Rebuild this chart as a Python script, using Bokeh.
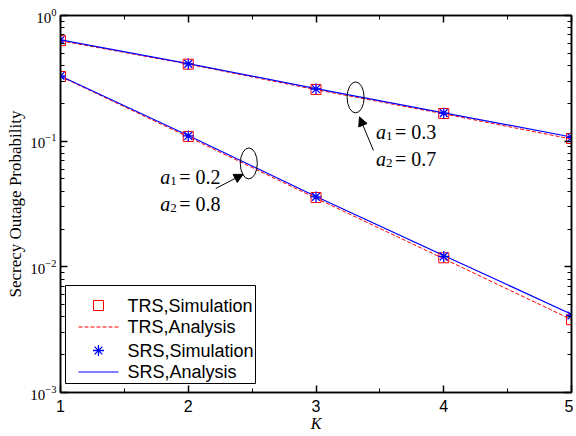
from bokeh.plotting import figure
from bokeh.models import (LinearAxis, LogAxis, SingleIntervalTicker, LogTicker, LinearScale,
                          Label, Arrow, NormalHead, Range1d)
from bokeh.core.properties import value
from bokeh.embed import file_html
from bokeh.resources import INLINE

K = [1, 2, 3, 4, 5]
# a1=0.3, a2=0.7 (upper curves)
trs_sim_hi = [0.63, 0.41, 0.258, 0.166, 0.105]
trs_ana_hi = [0.63, 0.41, 0.257, 0.165, 0.104]
srs_sim_hi = [0.635, 0.412, 0.26, 0.167, 0.107]
srs_ana_hi = [0.64, 0.414, 0.262, 0.168, 0.108]
# a1=0.2, a2=0.8 (lower curves)
trs_sim_lo = [0.327, 0.109, 0.0356, 0.0118, 0.0038]
trs_ana_lo = [0.327, 0.108, 0.0352, 0.0116, 0.0038]
srs_sim_lo = [0.33, 0.110, 0.0360, 0.0121, 0.0041]
srs_ana_lo = [0.33, 0.111, 0.0363, 0.0123, 0.0042]

legend_labels = ["TRS,Simulation", "TRS,Analysis", "SRS,Simulation", "SRS,Analysis"]

# annotation anchors (data coords)
ell_x = [2.474, 3.31]
ell_y = [0.0665, 0.223]
arrow_lo = (2.215, 0.042, 2.43, 0.0545)
arrow_hi = (3.45, 0.0843, 3.34, 0.156)
txt_lo = (1.78, 0.046, "0.2", "0.8")
txt_hi = (3.47, 0.105, "0.3", "0.7")

SERIF = "Liberation Serif"
SANS = "Liberation Sans"
FW, FH = 511, 377

p = figure(frame_width=FW, frame_height=FH, y_axis_type="log", output_backend="svg", toolbar_location=None,
           x_range=Range1d(1, 5), y_range=Range1d(1e-3, 1),
           min_border_left=60, min_border_right=2, min_border_top=15, min_border_bottom=20)
p.background_fill_color = "white"
p.border_fill_color = "white"
p.outline_line_color = "black"
p.outline_line_width = 1.5
p.xgrid.visible = False
p.ygrid.visible = False
# pixel-space ranges for the legend box
p.extra_x_ranges = {"px": Range1d(0, FW)}
p.extra_y_ranges = {"px": Range1d(0, FH)}
p.extra_x_scales = {"px": LinearScale()}
p.extra_y_scales = {"px": LinearScale()}

def style_axis(ax, labels=True):
    ax.major_tick_in = 7
    ax.major_tick_out = 0
    ax.minor_tick_in = 4
    ax.minor_tick_out = 0
    ax.axis_line_color = "black"
    ax.axis_line_width = 1.5
    ax.major_tick_line_color = "black"
    ax.minor_tick_line_color = "black"
    ax.major_tick_line_width = 1.5
    ax.minor_tick_line_width = 1
    ax.major_label_text_color = "black"
    ax.axis_label_text_color = "black"
    if not labels:
        ax.major_label_text_font_size = "0px"
        ax.major_label_text_alpha = 0
        ax.major_label_standoff = 0

xax = p.xaxis[0]
xax.ticker = SingleIntervalTicker(interval=1, num_minor_ticks=2)
style_axis(xax)
xax.major_label_text_font = SANS
xax.major_label_text_font_size = "16px"
xax.major_label_standoff = 7
xax.axis_label = "K"
xax.axis_label_text_font = SERIF
xax.axis_label_text_font_style = "italic"
xax.axis_label_text_font_size = "16px"
xax.axis_label_standoff = 0

yax = p.yaxis[0]
yax.ticker = LogTicker(num_minor_ticks=10)
style_axis(yax)
yax.major_label_text_font = SERIF
yax.major_label_text_font_size = "15px"
yax.major_label_standoff = 4
yax.axis_label = "Secrecy Outage Probability"
yax.axis_label_text_font = SERIF
yax.axis_label_text_font_style = "normal"
yax.axis_label_text_font_size = "17px"
yax.axis_label_standoff = 2

top = LinearAxis(ticker=SingleIntervalTicker(interval=1, num_minor_ticks=2))
style_axis(top, labels=False)
p.add_layout(top, "above")
right = LogAxis(ticker=LogTicker(num_minor_ticks=10))
style_axis(right, labels=False)
p.add_layout(right, "right")

RED = "red"
BLUE = "blue"

for d in (trs_ana_hi, trs_ana_lo):
    p.line(K, d, line_color=RED, line_dash="4 2", line_width=1)
for d in (srs_ana_hi, srs_ana_lo):
    p.line(K, d, line_color=BLUE, line_width=1.2)
for d in (trs_sim_hi, trs_sim_lo):
    p.scatter(K, d, marker="square", size=10, fill_color=None, line_color=RED, line_width=1)
for d in (srs_sim_hi, srs_sim_lo):
    p.scatter(K, d, marker="asterisk", size=11, line_color=BLUE, line_width=1.3)

# ellipses
p.ellipse(x=ell_x, y=ell_y, width=17, height=31, width_units="screen", height_units="screen",
          fill_color=None, line_color="black", line_width=1)

for (x0, y0, x1, y1) in (arrow_lo, arrow_hi):
    p.add_layout(Arrow(x_start=x0, y_start=y0, x_end=x1, y_end=y1, line_width=1, line_color="black",
                       end=NormalHead(size=9, fill_color="black", line_color="black", line_width=1)))

for (tx, ty, v1, v2) in (txt_lo, txt_hi):
    for i, (sub, val) in enumerate((("1", v1), ("2", v2))):
        dy = 7 - 27 * i
        p.add_layout(Label(x=tx, y=ty, y_offset=dy, text="a", text_font=SERIF, text_font_style="italic",
                           text_font_size="20px", text_baseline="alphabetic", text_color="black"))
        p.add_layout(Label(x=tx, y=ty, x_offset=10, y_offset=dy - 4, text=sub, text_font=SERIF,
                           text_font_size="13px", text_baseline="alphabetic", text_color="black"))
        p.add_layout(Label(x=tx, y=ty, x_offset=19, y_offset=dy, text="= " + val, text_font=SERIF,
                           text_font_size="20px", text_baseline="alphabetic", text_color="black"))

# legend drawn in frame pixel space (glyph level, after the data)
LX0, LX1, LY0, LY1 = 5, 195, 9, 107
rows = [87, 65.5, 42, 20.5]
p.quad(left=[LX0], right=[LX1], bottom=[LY0], top=[LY1], fill_color="white", line_color="black",
       line_width=1, x_range_name="px", y_range_name="px")
p.line(x=[18, 58], y=[rows[1], rows[1]], line_color=RED, line_dash="4 2", line_width=1.2,
       x_range_name="px", y_range_name="px")
p.line(x=[18, 58], y=[rows[3], rows[3]], line_color=BLUE, line_width=1.2,
       x_range_name="px", y_range_name="px")
p.scatter(x=[38], y=[rows[0]], marker="square", size=10, fill_color=None, line_color=RED, line_width=1,
          x_range_name="px", y_range_name="px")
p.scatter(x=[38], y=[rows[2]], marker="asterisk", size=11, line_color=BLUE, line_width=1.3,
          x_range_name="px", y_range_name="px")
p.text(x=[67] * 4, y=rows, text=legend_labels, text_font=value(SANS), text_font_size="18px",
       text_baseline="middle", text_align="left", text_color="black",
       x_range_name="px", y_range_name="px")

open("out.html", "w").write(file_html(p, INLINE))
